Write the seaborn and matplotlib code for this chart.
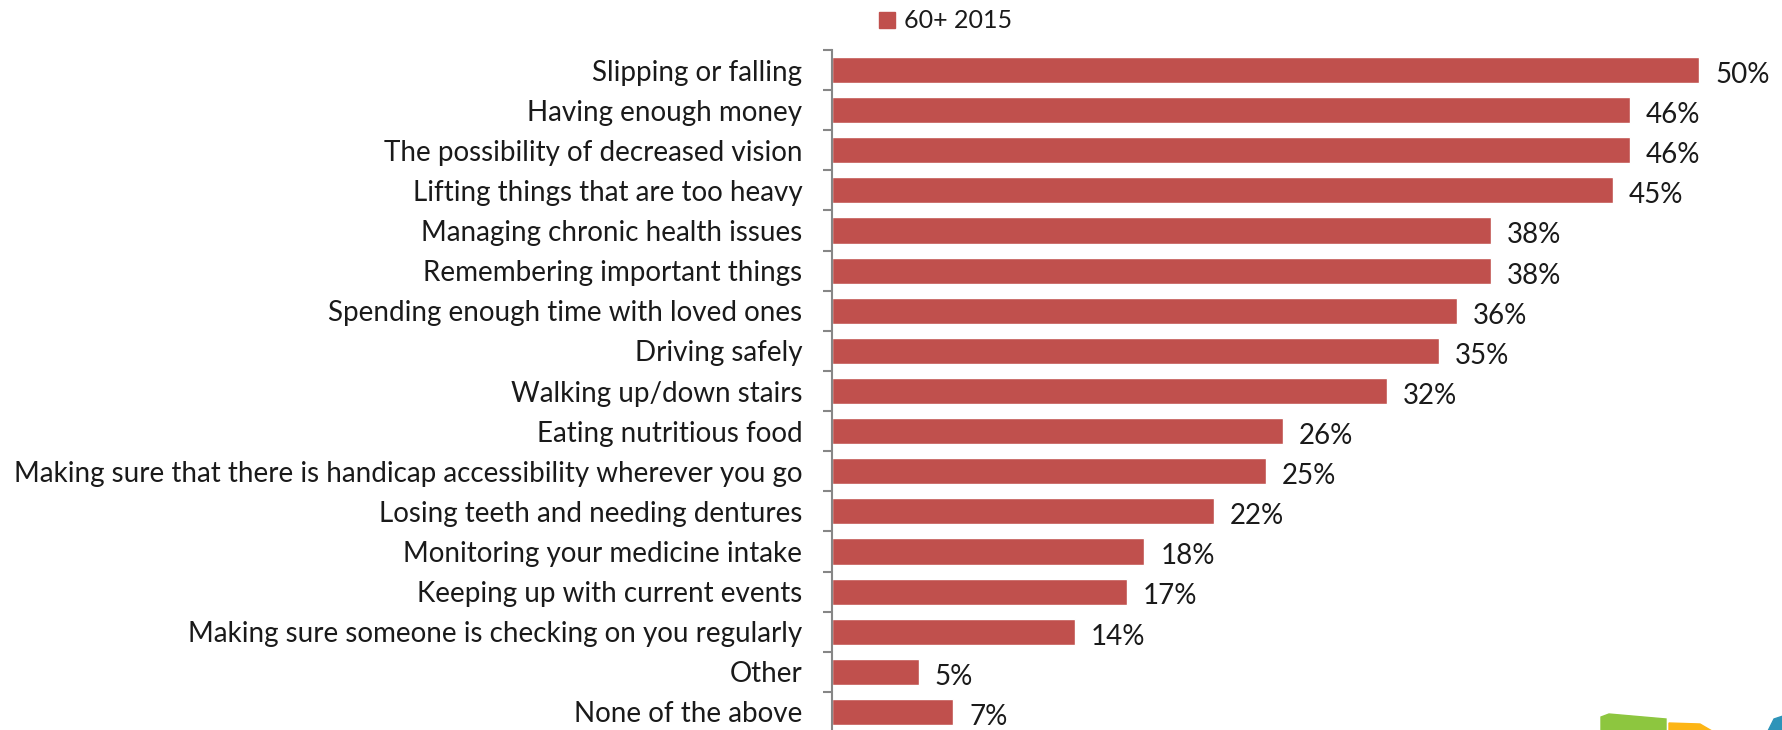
import matplotlib
matplotlib.use("Agg")
import matplotlib.pyplot as plt
import seaborn as sns
import pandas as pd
from matplotlib.patches import Polygon

categories = [
    "Slipping or falling",
    "Having enough money",
    "The possibility of decreased vision",
    "Lifting things that are too heavy",
    "Managing chronic health issues",
    "Remembering important things",
    "Spending enough time with loved ones",
    "Driving safely",
    "Walking up/down stairs",
    "Eating nutritious food",
    "Making sure that there is handicap accessibility wherever you go",
    "Losing teeth and needing dentures",
    "Monitoring your medicine intake",
    "Keeping up with current events",
    "Making sure someone is checking on you regularly",
    "Other",
    "None of the above",
]
values = [50, 46, 46, 45, 38, 38, 36, 35, 32, 26, 25, 22, 18, 17, 14, 5, 7]
series_name = "60+ 2015"

sns.set_style("white")
plt.rcParams["font.family"] = ["Lato", "DejaVu Sans"]

W, H = 1783, 730
fig = plt.figure(figsize=(W / 100, H / 100), dpi=100)
ax_left = 832 / W
ax_top = 1 - 50 / H
ax_bottom = 1 - 732 / H
ax = fig.add_axes([ax_left, ax_bottom, 1 - ax_left, ax_top - ax_bottom])

df = pd.DataFrame({"cat": categories, "val": values, "series": series_name})
bar_color = "#C0504D"
sns.barplot(data=df, y="cat", x="val", hue="series", palette=[bar_color],
            orient="h", width=0.65, ax=ax, legend=False, saturation=1)

ax.set_xlim(0, (W - 832) / 17.35)
ax.set_ylim(len(categories) - 0.5, -0.5)
ax.set_xlabel("")
ax.set_ylabel("")
ax.set_xticks([])

for s in ["top", "right", "bottom"]:
    ax.spines[s].set_visible(False)
ax.spines["left"].set_color("#868686")
ax.spines["left"].set_linewidth(1.5)

ax.set_yticks(range(len(categories)))
ax.set_yticklabels(categories, fontsize=20, color="#1a1a1a")
ax.tick_params(axis="y", which="major", left=True, length=0, pad=21.5)
ax.set_yticks([i - 0.5 for i in range(len(categories) + 1)], minor=True)
ax.tick_params(axis="y", which="minor", left=True, direction="out",
               length=6.5, width=1.5, color="#868686")

for i, v in enumerate(values):
    ax.annotate(f"{v}%", xy=(v, i), xytext=(11.5, -3.5), textcoords="offset points",
                ha="left", va="center", fontsize=20, color="#1a1a1a")

# legend
fig.patches.append(plt.Rectangle((879 / W, 1 - 28 / H), 16 / W, 16 / H,
                                 transform=fig.transFigure, color=bar_color))
fig.text(904 / W, 1 - 21 / H, series_name, fontsize=18, va="center",
         ha="left", color="#1a1a1a")

# partial logo at bottom-right
def fpoly(pts, color):
    p = Polygon([(x / W, 1 - y / H) for x, y in pts], closed=True,
                transform=fig.transFigure, color=color, zorder=5)
    fig.patches.append(p)

fpoly([(1601, 717), (1609, 714), (1666, 719), (1666, 731), (1601, 731)], "#8DC63F")
fpoly([(1669, 723), (1700, 724), (1712, 731), (1669, 731)], "#FDB515")
fpoly([(1768, 731), (1774, 719), (1783, 716), (1783, 731)], "#2E94B9")

fig.savefig("out.png", dpi=100)
